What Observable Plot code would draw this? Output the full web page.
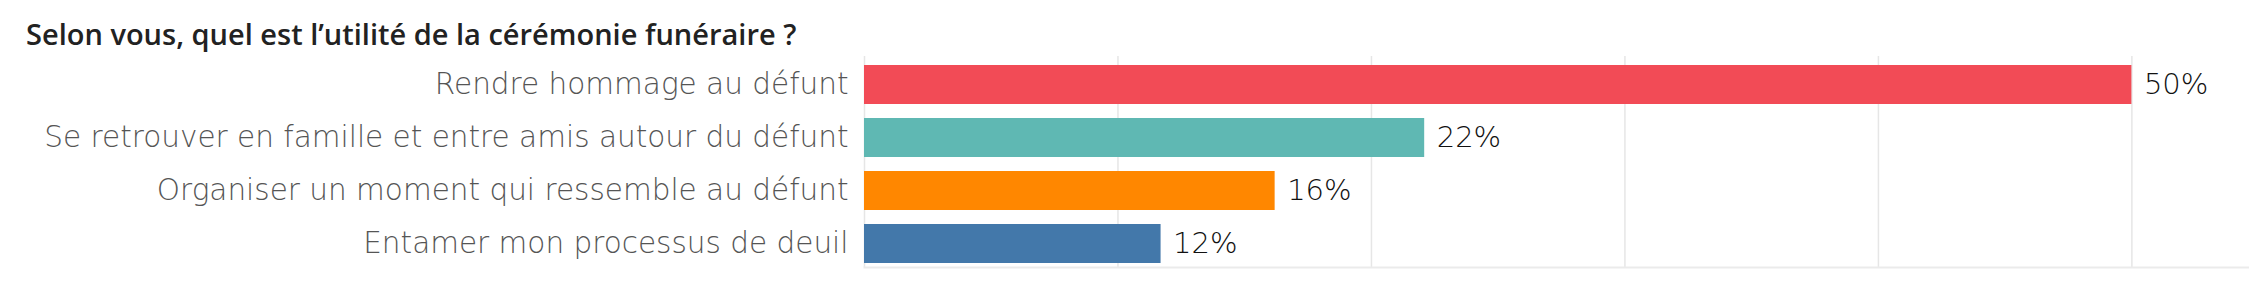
<!DOCTYPE html>
<html>
<head>
<meta charset="utf-8">
<script src="https://cdn.jsdelivr.net/npm/d3@7"></script>
<script src="https://cdn.jsdelivr.net/npm/@observablehq/plot@0.6"></script>
<style>
  html, body { margin: 0; padding: 0; background: #fff; }
  #title { display: block; }
  #chart svg { display: block; }
</style>
</head>
<body>
<svg id="title" width="2249" height="56"></svg>
<div id="chart"></div>
<script>
const titleText = "Selon vous, quel est l’utilité de la cérémonie funéraire ?";
const categories = [
  "Rendre hommage au défunt",
  "Se retrouver en famille et entre amis autour du défunt",
  "Organiser un moment qui ressemble au défunt",
  "Entamer mon processus de deuil"
];
const values = [50.0, 22.1, 16.2, 11.7];
const colors = ["#f24b56", "#5fb8b3", "#ff8700", "#4378aa"];
const gridTicks = [0, 10, 20, 30, 40, 50];

const data = categories.map((c, i) => ({category: c, value: values[i], color: colors[i]}));

// Title
d3.select("#title").append("text")
  .attr("x", 26)
  .attr("y", 45)
  .attr("font-family", "'Open Sans', sans-serif")
  .attr("font-weight", 600)
  .attr("font-size", 29)
  .attr("fill", "#222")
  .text(titleText);

const chart = Plot.plot({
  width: 2249,
  height: 244,
  marginTop: 0,
  marginBottom: 33,
  marginLeft: 864,
  marginRight: 0,
  style: {fontFamily: "'DejaVu Sans', sans-serif", background: "#fff"},
  x: {domain: [0, 54.64], axis: null},
  y: {domain: categories, paddingInner: 0.26, paddingOuter: 0.11, align: 0.68, axis: null},
  marks: [
    Plot.gridX(gridTicks, {stroke: "#e6e6e6", strokeOpacity: 1, strokeWidth: 1.5}),
    Plot.frame({anchor: "bottom", stroke: "#ebebeb", strokeWidth: 2}),
    Plot.barX(data, {x: "value", y: "category", fill: "color"}),
    Plot.axisY({tickSize: 0, tickPadding: 16, fontSize: 29.5, fill: "#555", fontWeight: 200, label: null}),
    Plot.text(data, {x: "value", y: "category", text: d => Math.round(d.value) + "%", textAnchor: "start", dx: 12, fontSize: 29, fill: "#111", fontWeight: 200})
  ]
});
document.getElementById("chart").appendChild(chart);
</script>
</body>
</html>
